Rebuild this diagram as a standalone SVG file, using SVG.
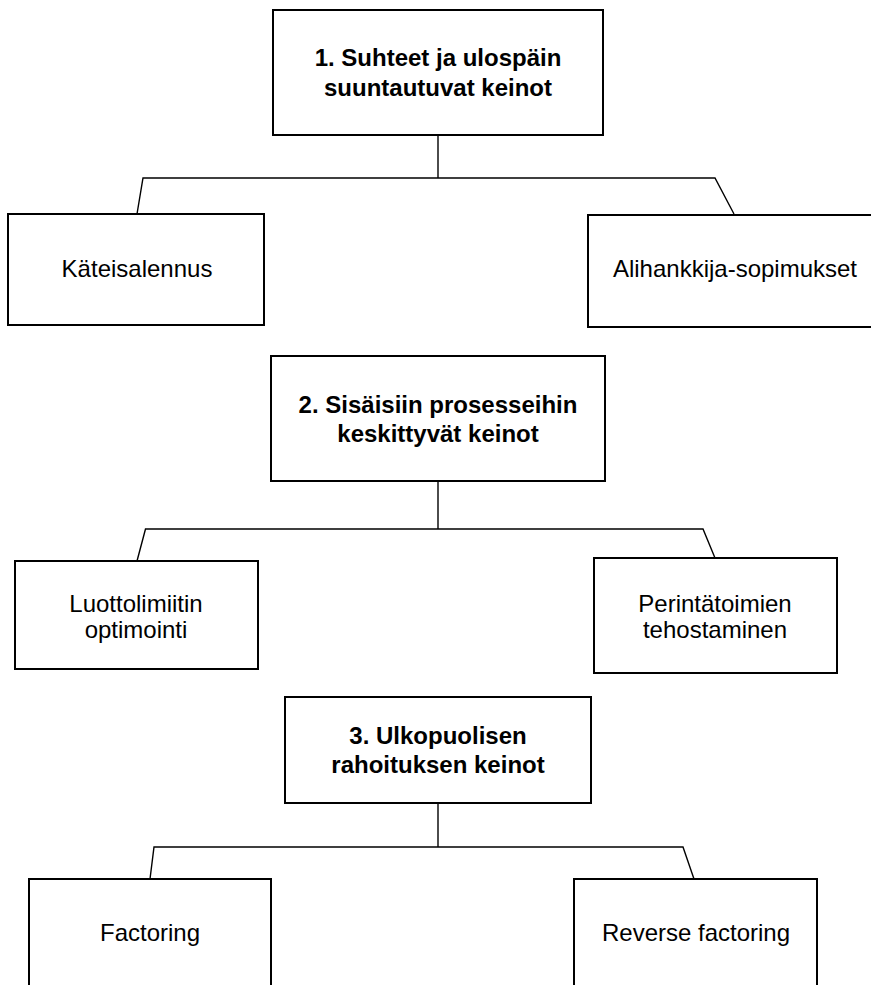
<svg xmlns="http://www.w3.org/2000/svg" width="871" height="985" viewBox="0 0 871 985">
<style>
.box{fill:#fff;stroke:#000;stroke-width:2}
.con{fill:none;stroke:#000;stroke-width:1.4}
.h{font-family:"Liberation Sans",Arial,sans-serif;font-size:24px;font-weight:bold;text-anchor:middle;fill:#000}
.t{font-family:"Liberation Sans",Arial,sans-serif;font-size:24px;text-anchor:middle;fill:#000}
</style>
<rect width="871" height="985" fill="#fff"/>
<g id="connectors">
<polyline class="con" points="438,135 438,178"/>
<polyline class="con" points="137,214 143,178 715,178 734,214"/>
<polyline class="con" points="438,481 438,529"/>
<polyline class="con" points="137,561 145.5,529 703,529 715,558"/>
<polyline class="con" points="438,803 438,847"/>
<polyline class="con" points="150,879 154,847 683,847 694,879"/>
</g>
<g id="n1">
<rect class="box" x="273" y="10" width="330" height="125"/>
<text class="h" x="438" y="66">1. Suhteet ja ulospäin</text>
<text class="h" x="438" y="96">suuntautuvat keinot</text>
</g>
<g id="n1a">
<rect class="box" x="8" y="214" width="256" height="111"/>
<text class="t" x="137" y="277">Käteisalennus</text>
</g>
<g id="n1b">
<rect class="box" x="588" y="215" width="290" height="112"/>
<text class="t" x="735" y="277">Alihankkija-sopimukset</text>
</g>
<g id="n2">
<rect class="box" x="271" y="356" width="334" height="125"/>
<text class="h" x="438" y="413">2. Sisäisiin prosesseihin</text>
<text class="h" x="438" y="442">keskittyvät keinot</text>
</g>
<g id="n2a">
<rect class="box" x="15" y="561" width="243" height="108"/>
<text class="t" x="136" y="612">Luottolimiitin</text>
<text class="t" x="136" y="638">optimointi</text>
</g>
<g id="n2b">
<rect class="box" x="594" y="558" width="243" height="115"/>
<text class="t" x="715" y="612">Perintätoimien</text>
<text class="t" x="715" y="638">tehostaminen</text>
</g>
<g id="n3">
<rect class="box" x="285" y="697" width="306" height="106"/>
<text class="h" x="438" y="744">3. Ulkopuolisen</text>
<text class="h" x="438" y="773">rahoituksen keinot</text>
</g>
<g id="n3a">
<rect class="box" x="29" y="879" width="242" height="120"/>
<text class="t" x="150" y="941">Factoring</text>
</g>
<g id="n3b">
<rect class="box" x="574" y="879" width="243" height="120"/>
<text class="t" x="696" y="941">Reverse factoring</text>
</g>
</svg>
